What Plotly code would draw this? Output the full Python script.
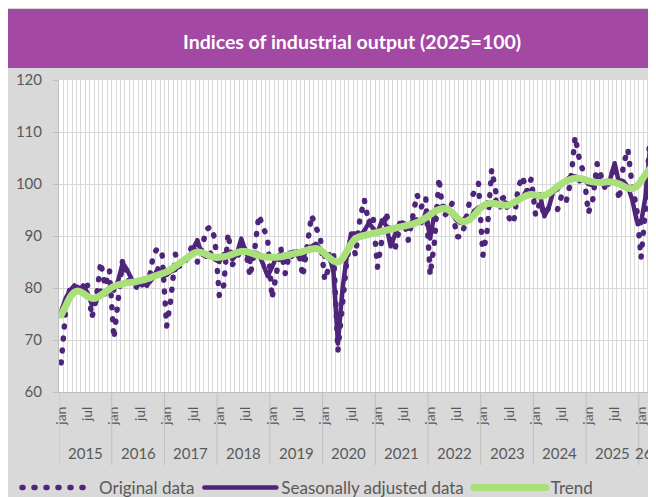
import plotly.graph_objects as go

# monthly indices, jan 2015 .. mar 2026
original = [
    65.6, 75.5, 80.0, 79.5, 80.4, 80.0, 80.5, 74.3, 78.0, 85.0, 80.3, 83.4,
    70.3, 77.5, 85.4, 82.0, 80.5, 80.0, 81.5, 79.6, 81.5, 86.5, 87.7, 86.3,
    72.6, 78.0, 86.5, 84.0, 84.5, 86.5, 88.5, 85.0, 87.5, 91.2, 91.8, 89.5,
    78.5, 80.5, 90.5, 84.5, 85.5, 88.0, 87.3, 82.2, 87.0, 94.0, 91.5, 89.4,
    78.0, 82.7, 87.6, 82.8, 86.7, 85.5, 87.4, 82.2, 89.2, 94.0, 91.7, 89.6,
    81.5, 84.0, 86.8, 67.9, 77.0, 85.0, 90.0, 86.3, 93.2, 97.0, 92.5, 94.0,
    84.0, 88.9, 94.6, 90.0, 87.5, 91.5, 93.0, 89.2, 93.5, 98.0, 95.6, 97.4,
    82.5, 89.0, 101.2, 93.7, 94.6, 96.3, 89.9, 89.8, 92.4, 96.8, 98.4, 100.1,
    86.3, 91.2, 102.8, 98.2, 97.1, 97.5, 93.4, 92.4, 99.2, 101.5, 98.5, 101.0,
    94.0, 96.5, 94.0, 95.5, 95.0, 95.1, 98.0, 96.8, 100.5, 109.1, 104.6, 102.0,
    94.4, 96.9, 103.9, 101.5, 98.7, 101.0, 103.5, 96.9, 103.7, 106.7, 99.5, 95.5,
    85.8, 95.0, 108.9,
]

seasonally_adjusted = [
    75.5, 78.0, 79.5, 80.5, 79.5, 80.5, 79.0, 76.8, 77.5, 79.5, 78.8, 80.0,
    79.5, 81.5, 84.8, 83.5, 81.8, 80.5, 80.8, 81.8, 81.0, 82.0, 83.8, 82.5,
    82.5, 83.2, 83.5, 84.5, 85.5, 85.8, 87.5, 89.2, 86.5, 86.0, 86.8, 85.5,
    85.0, 86.5, 86.8, 85.5, 86.5, 89.5, 87.0, 85.0, 86.8, 86.5, 84.5, 82.3,
    84.0, 86.0, 86.5, 85.5, 86.8, 87.0, 86.0, 85.5, 87.8, 88.0, 88.5, 87.5,
    86.0, 86.5, 83.0, 69.3, 79.5, 86.0, 90.5, 90.5, 90.0, 91.0, 92.5, 91.5,
    90.5, 93.0, 92.0, 88.0, 90.5, 92.5, 92.5, 91.5, 93.0, 93.2, 92.5, 94.5,
    89.5, 94.5, 95.5, 95.8, 95.0, 94.2, 93.0, 92.5, 93.5, 93.0, 94.8, 95.5,
    95.5, 96.5, 96.0, 97.0, 95.5, 96.5, 96.0, 96.5, 97.0, 97.5, 98.8, 98.5,
    97.5, 98.0, 93.8, 95.5, 98.5, 99.0, 100.0, 100.8, 101.5, 101.5, 100.5, 101.0,
    100.0, 99.8, 101.0, 100.5, 100.0, 101.0, 104.0, 100.2, 100.5, 99.5, 97.0, 93.0,
    92.5, 97.5, 106.5,
]

trend = [
    74.8, 76.5, 78.2, 79.2, 79.4, 79.0, 78.4, 78.0, 78.1, 78.6, 79.2, 79.8,
    80.3, 80.6, 80.8, 81.0, 81.1, 81.2, 81.4, 81.6, 81.9, 82.2, 82.5, 82.8,
    83.1, 83.6, 84.2, 84.8, 85.4, 86.0, 86.6, 86.9, 86.8, 86.5, 86.1, 85.9,
    85.9, 86.0, 86.2, 86.5, 86.8, 87.0, 87.0, 86.8, 86.5, 86.2, 86.0, 85.9,
    85.9, 85.9, 86.0, 86.2, 86.4, 86.6, 86.8, 87.0, 87.3, 87.5, 87.6, 87.3,
    86.6, 85.8, 85.2, 85.0, 85.6, 87.0, 88.5, 89.5, 89.9, 90.1, 90.3, 90.5,
    90.7, 90.9, 91.1, 91.3, 91.5, 91.7, 91.9, 92.1, 92.3, 92.6, 93.0, 93.5,
    94.1, 94.7, 95.1, 95.3, 95.1, 94.5, 93.6, 92.9, 92.8, 93.2, 94.0, 95.0,
    95.8, 96.2, 96.3, 96.2, 96.0, 95.9, 96.0, 96.4, 96.9, 97.4, 97.8, 98.0,
    97.9, 97.7, 97.8, 98.2, 98.8, 99.5, 100.1, 100.6, 100.9, 101.1, 101.1, 100.9,
    100.6, 100.4, 100.3, 100.3, 100.4, 100.4, 100.3, 100.0, 99.6, 99.2, 99.1, 99.5,
    100.6, 101.8, 102.9,
]

year_labels = ['2015', '2016', '2017', '2018', '2019', '2020',
               '2021', '2022', '2023', '2024', '2025', '26']
month_ticks = ['jan', 'jul']

purple = '#4e257a'
green = '#a9e07a'
banner = '#a349a4'
grey_text = '#595959'
grid = '#d9d9d9'
font = 'Lato, Carlito, Calibri, sans-serif'

# the page adds an 8px body margin, so the figure is 8px smaller than the window
W, H = 648, 489
L, R, T, B = 51, 4, 72, 105
pw, ph = W - L - R, H - T - B


def px(v):
    return (v - L) / pw


def py(v):
    return (H - B - v) / ph


x = list(range(len(original)))
tickvals = [i for i in x if i % 6 == 0]
ticktext = [month_ticks[(i // 6) % 2] for i in tickvals]

fig = go.Figure()
fig.add_trace(go.Scatter(x=x, y=original, mode='lines', name='Original data',
                         line=dict(color=purple, width=5.5, dash='1px,11px')))
fig.add_trace(go.Scatter(x=x, y=seasonally_adjusted, mode='lines',
                         name='Seasonally adjusted data',
                         line=dict(color=purple, width=4.5)))
fig.add_trace(go.Scatter(x=x, y=trend, mode='lines', name='Trend',
                         line=dict(color=green, width=7, shape='spline', smoothing=0.6)))

shapes = [
    dict(type='rect', xref='paper', yref='paper', x0=px(0), x1=px(W + 2), y0=py(60), y1=py(1),
         fillcolor=banner, line_width=0),
]
# year separators under the axis
for k in range(len(year_labels)):
    shapes.append(dict(type='line', xref='x', yref='paper', x0=12 * k - 0.5, x1=12 * k - 0.5,
                       y0=0, y1=py(457), line=dict(color='#bfbfbf', width=1)))

annotations = [dict(text='<b>Indices of industrial output (2025=100)</b>', xref='paper', yref='paper',
                    x=px(344), y=py(33), xanchor='center', yanchor='middle', showarrow=False,
                    font=dict(family=font, size=19.5, color='white'))]
for k, lab in enumerate(year_labels):
    xc = min(12 * k + 5.5, len(x) - 2.4)
    annotations.append(dict(text=lab, xref='x', yref='paper', x=xc, y=py(445),
                            showarrow=False, xanchor='center', yanchor='middle',
                            font=dict(family=font, size=15, color=grey_text)))

fig.update_layout(
    width=W, height=H,
    margin=dict(l=L, r=R, t=T, b=B),
    paper_bgcolor='#d9d9d9',
    plot_bgcolor='white',
    font=dict(family=font, size=15, color=grey_text),
    shapes=shapes,
    annotations=annotations,
    showlegend=True,
    legend=dict(orientation='h', yref='container', xref='container',
                x=9 / W, y=(H - 480) / H, xanchor='left', yanchor='middle',
                itemwidth=72, bgcolor='rgba(0,0,0,0)', font=dict(size=17, color=grey_text)),
    xaxis=dict(range=[-0.5, len(x) - 0.5], tickmode='array', tickvals=tickvals, ticktext=ticktext,
               tickangle=-90, showgrid=False, zeroline=False, ticks='',
               showline=True, linecolor='#bfbfbf', linewidth=1,
               ticklabelstandoff=8, tickfont=dict(size=14, color=grey_text),
               minor=dict(tickmode='linear', tick0=-0.5, dtick=1, showgrid=True,
                          gridcolor=grid, gridwidth=1, ticks='')),
    yaxis=dict(range=[60, 120], dtick=10, showgrid=True, gridcolor=grid, gridwidth=1,
               zeroline=False, showline=True, linecolor='#bfbfbf', linewidth=1,
               ticks='outside', ticklen=5, tickcolor='#bfbfbf',
               ticklabelstandoff=8, tickfont=dict(size=15, color=grey_text)),
)

page_js = ("document.body.style.overflow='hidden';"
           "document.querySelectorAll('path.js-line').forEach(function(p){"
           "p.style.strokeLinecap='round';p.style.strokeLinejoin='round';});")
fig.write_html("out.html", post_script=page_js)
